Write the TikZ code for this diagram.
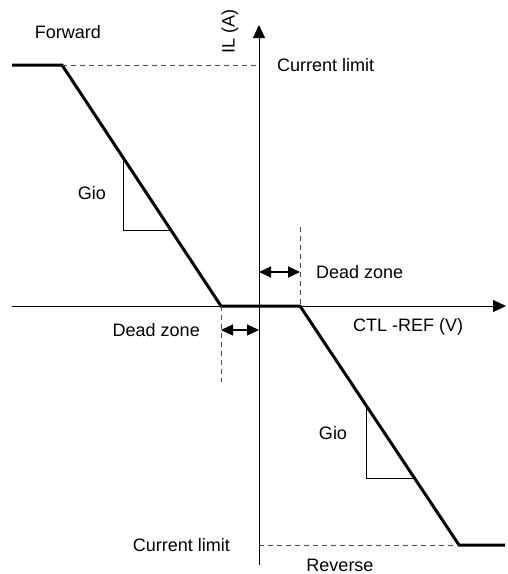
\documentclass[tikz,border=0pt]{standalone}
\usepackage{fontspec}
\setmainfont{Liberation Sans}
\usetikzlibrary{arrows.meta}

\begin{document}
\begin{tikzpicture}[x=1pt,y=-1pt,
  kurve/.style={line width=3pt},
  hilfe/.style={line width=0.8pt,dash pattern=on 5pt off 4pt,black!70},
  achse/.style={line width=1pt,-{Triangle[length=13pt,width=12pt]}},
  zone/.style={line width=1.2pt,{Triangle[length=12pt,width=11pt]}-{Triangle[length=12pt,width=11pt]}},
  steig/.style={line width=0.9pt},
  txt/.style={inner sep=0pt,font=\fontsize{18}{21}\selectfont}]
\useasboundingbox (0,0) rectangle (507,574);
% Achsen
\coordinate (ybot) at (259,565);
\coordinate (ytop) at (259,25);
\coordinate (xl) at (12,306);
\coordinate (xr) at (506,306);
\draw[achse] (ybot) -- (ytop);
\draw[achse] (xl) -- (xr);
% Kennlinie
\coordinate (f0) at (12,65);
\coordinate (f1) at (62,65);
\coordinate (d1) at (221,306);
\coordinate (d2) at (300,306);
\coordinate (r1) at (459,545);
\coordinate (r0) at (505,545);
\draw[kurve] (f0) -- (f1) -- (d1) -- (d2) -- (r1) -- (r0);
% Hilfslinien
\coordinate (lt) at (259,65);
\coordinate (lb) at (259,545);
\coordinate (dzt) at (300,227);
\coordinate (dzb) at (221,382);
\draw[hilfe] (f1) -- (lt);
\draw[hilfe] (lb) -- (r1);
\draw[hilfe] (dzt) -- (d2);
\draw[hilfe] (d1) -- (dzb);
% Totzone
\coordinate (a1) at (259,272);
\coordinate (a2) at (300,272);
\coordinate (b1) at (221,330);
\coordinate (b2) at (259,330);
\draw[zone] (a1) -- (a2);
\draw[zone] (b1) -- (b2);
% Steigung
\coordinate (g1) at (123,158);
\coordinate (g2) at (123,230);
\coordinate (g3) at (170,230);
\draw[steig] (g1) -- (g2) -- (g3);
\coordinate (h1) at (366,407);
\coordinate (h2) at (366,478);
\coordinate (h3) at (413,478);
\draw[steig] (h1) -- (h2) -- (h3);
% Beschriftung
\node[txt] (fwd) at (68,32) {Forward};
\node[txt,rotate=90] (il) at (230,31) {IL (A)};
\node[txt,anchor=west] (climo) at (277,65) {Current limit};
\node[txt] (gioo) at (92,193) {Gio};
\node[txt,anchor=west] (dzo) at (316,272) {Dead zone};
\node[txt,anchor=east] (dzu) at (200,330) {Dead zone};
\node[txt,anchor=west] (ctl) at (353,327) {CTL -REF (V)};
\node[txt] (giou) at (333,433) {Gio};
\node[txt,anchor=east] (climu) at (230,545) {Current limit};
\node[txt] (rev) at (340,565) {Reverse};
\end{tikzpicture}
\end{document}
